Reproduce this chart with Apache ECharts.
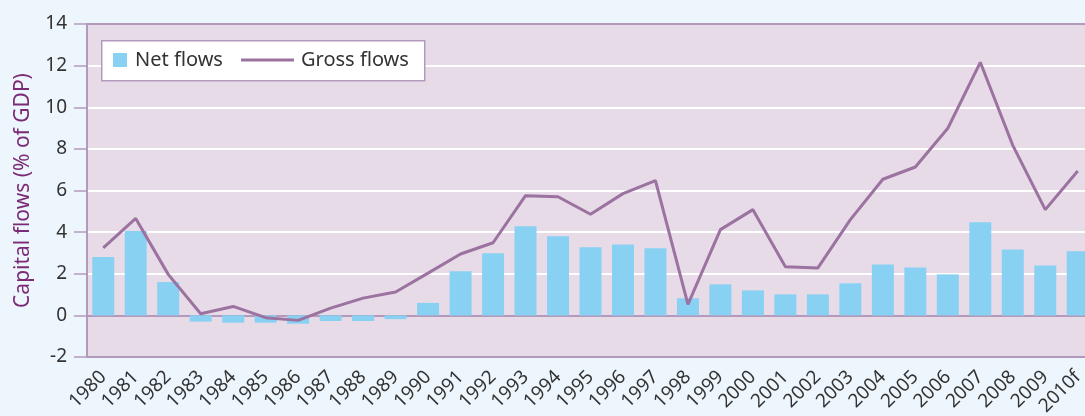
<!DOCTYPE html>
<html>
<head>
<meta charset="utf-8">
<script src="https://cdn.jsdelivr.net/npm/echarts@6/dist/echarts.min.js"></script>
<style>
  html, body { margin: 0; padding: 0; background: #edf6fc; }
  #chart { width: 1085px; height: 416px; }
</style>
</head>
<body>
<div id="chart"></div>
<script>
const years = ['1980', '1981', '1982', '1983', '1984', '1985', '1986', '1987', '1988', '1989',
  '1990', '1991', '1992', '1993', '1994', '1995', '1996', '1997', '1998', '1999',
  '2000', '2001', '2002', '2003', '2004', '2005', '2006', '2007', '2008', '2009', '2010f']
const netFlows = [2.8, 4.05, 1.6, -0.3, -0.35, -0.35, -0.4, -0.27, -0.27, -0.18,
  0.6, 2.12, 2.98, 4.28, 3.8, 3.27, 3.41, 3.22, 0.82, 1.49,
  1.2, 1.01, 1.01, 1.54, 2.45, 2.3, 1.97, 4.47, 3.17, 2.4, 3.08]
const grossFlows = [3.24, 4.66, 1.97, 0.08, 0.43, -0.11, -0.24, 0.35, 0.83, 1.12,
  2.03, 2.95, 3.49, 5.75, 5.7, 4.86, 5.85, 6.47, 0.53, 4.12,
  5.08, 2.34, 2.28, 4.6, 6.54, 7.13, 8.99, 12.16, 8.17, 5.08, 6.94]

const purple = '#b39abd'
const font = '"Noto Sans", "Open Sans", sans-serif'

const chart = echarts.init(document.getElementById('chart'))
chart.setOption({
  backgroundColor: '#edf6fc',
  textStyle: { fontFamily: font },
  grid: {
    left: 87,
    top: 24,
    width: 1007,
    height: 333,
    outerBoundsMode: 'none',
    containLabel: false,
    show: true,
    backgroundColor: '#e7dbe8',
    borderWidth: 0,
  },
  graphic: [
    {
      type: 'rect',
      left: 101,
      top: 40,
      shape: { width: 323, height: 40 },
      style: { fill: '#ffffff', stroke: purple, lineWidth: 1.5 },
      z: 5,
    },
  ],
  legend: [
    {
      data: ['Net flows'],
      left: 108,
      top: 45,
      itemWidth: 14,
      itemHeight: 14,
      icon: 'rect',
      textStyle: { fontSize: 20, color: '#333', fontFamily: font, padding: [0, 0, 0, 3] },
      z: 10,
    },
    {
      data: ['Gross flows'],
      left: 236,
      top: 45,
      itemWidth: 53,
      itemHeight: 3,
      icon: 'rect',
      textStyle: { fontSize: 20, color: '#333', fontFamily: font, padding: [0, 0, 0, 2] },
      z: 10,
    },
  ],
  xAxis: {
    type: 'category',
    data: years,
    axisLine: { onZero: false, lineStyle: { color: purple, width: 1.5 } },
    axisTick: { length: 13, lineStyle: { color: purple, width: 1.5 } },
    axisLabel: {
      rotate: 45,
      margin: 17,
      fontSize: 19,
      color: '#333',
      interval: 0,
      fontFamily: font,
    },
  },
  yAxis: {
    type: 'value',
    min: -2,
    max: 14,
    interval: 2,
    name: 'Capital flows (% of GDP)',
    nameLocation: 'middle',
    nameRotate: 90,
    nameGap: 53,
    nameTextStyle: { fontSize: 21, color: '#7b2a76', fontFamily: font },
    axisLine: { show: true, lineStyle: { color: purple, width: 2 } },
    axisTick: { show: true, length: 13, lineStyle: { color: purple, width: 1.5 } },
    axisLabel: { margin: 20, fontSize: 19, color: '#333', fontFamily: font },
    splitLine: {
      lineStyle: {
        width: 2,
        color: [purple, purple, '#ffffff', '#ffffff', '#ffffff', '#ffffff', '#ffffff', '#ffffff', purple],
      },
    },
  },
  series: [
    {
      name: 'Net flows',
      type: 'bar',
      data: netFlows,
      barWidth: 22,
      itemStyle: { color: '#89d1f3' },
    },
    {
      name: 'Gross flows',
      type: 'line',
      data: grossFlows,
      symbol: 'none',
      itemStyle: { color: '#9b72a0' },
      lineStyle: { color: '#9b72a0', width: 3 },
      z: 3,
    },
  ],
})
</script>
</body>
</html>
